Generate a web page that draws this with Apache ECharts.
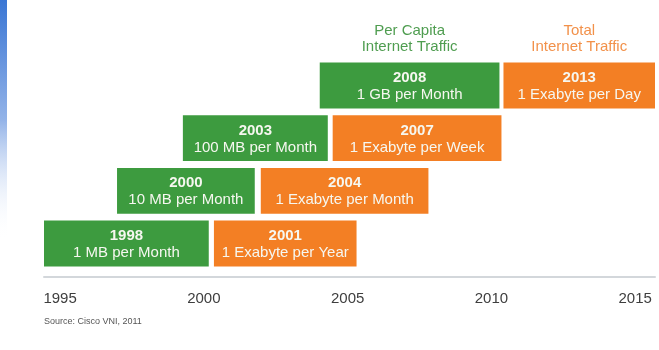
<!DOCTYPE html>
<html>
<head>
<meta charset="utf-8">
<script src="https://cdn.jsdelivr.net/npm/echarts@6/dist/echarts.min.js"></script>
<style>
  html, body { margin: 0; padding: 0; background: #ffffff; }
  #chart { width: 659px; height: 350px; }
</style>
</head>
<body>
<div id="chart"></div>
<script>
// Milestones in per-capita internet traffic (green boxes)
const perCapitaYears  = ['1998', '2000', '2003', '2008'];
const perCapitaLabels = ['1 MB per Month', '10 MB per Month', '100 MB per Month', '1 GB per Month'];
const perCapitaStart  = [1994.44, 1996.98, 1999.27, 2004.03];
const perCapitaEnd    = [2000.17, 2001.77, 2004.31, 2010.28];
const perCapitaRow    = [0, 1, 2, 3];

// Milestones in total internet traffic (orange boxes)
const totalYears  = ['2001', '2004', '2007', '2013'];
const totalLabels = ['1 Exabyte per Year', '1 Exabyte per Month', '1 Exabyte per Week', '1 Exabyte per Day'];
const totalStart  = [2000.35, 2001.98, 2004.48, 2010.42];
const totalEnd    = [2005.31, 2007.81, 2010.35, 2015.69];
const totalRow    = [0, 1, 2, 3];

// Column headings and axis ticks
const seriesHeadings = ['Per Capita\nInternet Traffic', 'Total\nInternet Traffic'];
const tickYears = [1995, 2000, 2005, 2010, 2015];
const sourceNote = 'Source: Cisco VNI, 2011';

const GREEN = '#3d9b3f';
const ORANGE = '#f37f24';
const FONT = '"Liberation Sans", Arial, sans-serif';

function buildData(start, end, row) {
  return start.map((s, i) => [s, end[i], row[i]]);
}

function makeRenderer(years, labels, fill, heading, headingColor) {
  const topRow = Math.max(...perCapitaRow, ...totalRow);
  return function (params, api) {
    const i = params.dataIndex;
    const row = api.value(2);
    const p0 = api.coord([api.value(0), row]);
    const p1 = api.coord([api.value(1), row]);
    const h = api.size([0, 1])[1] * 0.87;
    const cx = (p0[0] + p1[0]) / 2;
    const children = [
      {
        type: 'rect',
        shape: { x: p0[0], y: p0[1] - h / 2, width: p1[0] - p0[0], height: h },
        style: { fill: fill }
      },
      {
        type: 'text',
        style: {
          x: cx, y: p0[1] + 1,
          text: '{y|' + years[i] + '}\n{t|' + labels[i] + '}',
          align: 'center', verticalAlign: 'middle',
          rich: {
            y: { fontFamily: FONT, fontSize: 15, fontWeight: 'bold', fill: '#f6f7f0', lineHeight: 17 },
            t: { fontFamily: FONT, fontSize: 15, fill: '#f6f7f0', lineHeight: 17 }
          }
        }
      }
    ];
    if (row === topRow) {
      children.push({
        type: 'text',
        style: {
          x: cx, y: p0[1] - h / 2 - 8,
          text: heading,
          align: 'center', verticalAlign: 'bottom',
          fontFamily: FONT, fontSize: 15, lineHeight: 16,
          fill: headingColor
        }
      });
    }
    return { type: 'group', children: children };
  };
}

const chart = echarts.init(document.getElementById('chart'), null, { renderer: 'canvas' });

chart.setOption({
  animation: false,
  backgroundColor: '#ffffff',
  grid: { left: 44, right: 4, top: 60, bottom: 73 },
  xAxis: {
    type: 'value',
    min: 1994.44,
    max: 2015.69,
    splitLine: { show: false },
    axisTick: { show: false },
    axisLine: { show: true, onZero: false, lineStyle: { color: '#d3d7db', width: 2 } },
    axisLabel: {
      customValues: tickYears,
      formatter: (v) => String(v),
      margin: 14,
      fontFamily: FONT,
      fontSize: 15,
      color: '#3e3e3e'
    }
  },
  yAxis: {
    type: 'value',
    min: -0.636,
    max: 3.484,
    show: false
  },
  series: [
    {
      name: 'Per Capita Internet Traffic',
      type: 'custom',
      renderItem: makeRenderer(perCapitaYears, perCapitaLabels, GREEN, seriesHeadings[0], '#4f9d50'),
      data: buildData(perCapitaStart, perCapitaEnd, perCapitaRow),
      encode: { x: [0, 1], y: 2 }
    },
    {
      name: 'Total Internet Traffic',
      type: 'custom',
      renderItem: makeRenderer(totalYears, totalLabels, ORANGE, seriesHeadings[1], '#f2914a'),
      data: buildData(totalStart, totalEnd, totalRow),
      encode: { x: [0, 1], y: 2 }
    }
  ],
  graphic: [
    {
      type: 'rect',
      left: 0, top: 0,
      shape: { width: 7, height: 240 },
      style: {
        fill: new echarts.graphic.LinearGradient(0, 0, 0, 1, [
          { offset: 0, color: '#3a76d4' },
          { offset: 0.5, color: '#93b3e8' },
          { offset: 1, color: 'rgba(255,255,255,0)' }
        ])
      }
    },
    {
      type: 'text',
      left: 44, top: 317,
      style: { text: sourceNote, fontFamily: FONT, fontSize: 9, fill: '#555555' }
    }
  ]
});
</script>
</body>
</html>
